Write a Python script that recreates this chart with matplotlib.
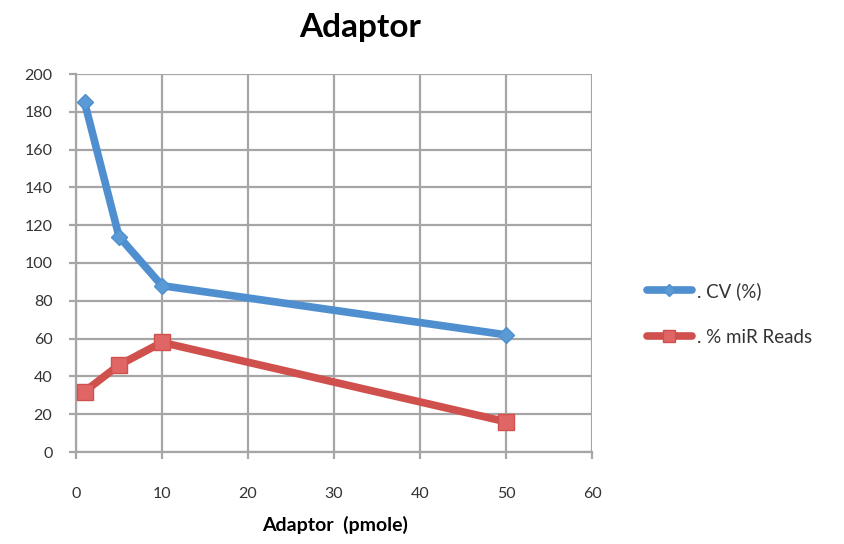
import matplotlib
matplotlib.use("Agg")
import matplotlib.pyplot as plt
from matplotlib.lines import Line2D

plt.rcParams['font.family'] = ['Lato', 'DejaVu Sans']

adaptor_pmole = [1, 5, 10, 50]
cv_percent = [185, 114, 88, 62]
mir_reads_percent = [32, 46, 58, 16]

x_ticks = [0, 10, 20, 30, 40, 50, 60]
y_ticks = list(range(0, 201, 20))

blue = '#4f8fd0'
red = '#d0504d'
grid_col = '#a6a6a6'

fig = plt.figure(figsize=(8.44, 5.44), dpi=100)
ax = fig.add_axes([76 / 844, 1 - 452 / 544, (592 - 76) / 844, (452 - 74) / 544])

ax.plot(adaptor_pmole, cv_percent, color=blue, lw=5.5, marker='D', ms=8,
        mfc='#5b9bd5', mec=blue, mew=1, solid_joinstyle='round',
        label='. CV (%)', zorder=3)
ax.plot(adaptor_pmole, mir_reads_percent, color=red, lw=5.5, marker='s', ms=11,
        mfc='#e06666', mec=red, mew=1, solid_joinstyle='round',
        label='. % miR Reads', zorder=3)

ax.set_xlim(0, 60)
ax.set_ylim(0, 200)
ax.set_xticks(x_ticks)
ax.set_yticks(y_ticks)
ax.grid(True, color=grid_col, lw=1.6)
ax.set_axisbelow(True)
for side in ['top', 'right']:
    ax.spines[side].set_visible(False)
for side in ['left', 'bottom']:
    ax.spines[side].set_color(grid_col)
    ax.spines[side].set_linewidth(1.6)
ax.tick_params(axis='both', colors=grid_col, width=1.6, length=5,
               labelcolor='#333333', labelsize=11.5)
ax.tick_params(axis='x', pad=20)
ax.tick_params(axis='y', pad=12)

fig.text(360 / 844, 1 - 28 / 544, 'Adaptor', ha='center', va='center',
         fontsize=24, fontweight='bold', color='black')
fig.text(335 / 844, 1 - 525 / 544, 'Adaptor  (pmole)', ha='center', va='center',
         fontsize=14, fontweight='bold', color='black')

handles = [
    Line2D([], [], color=blue, lw=5.5, marker='D', ms=6, mfc='#5b9bd5', mec=blue,
           solid_capstyle='round'),
    Line2D([], [], color=red, lw=5.5, marker='s', ms=8, mfc='#e06666', mec=red,
           solid_capstyle='round'),
]
fig.legend(handles, ['. CV (%)', '. % miR Reads'], loc='center left',
           bbox_to_anchor=(630 / 844, 1 - 314 / 544), frameon=False,
           fontsize=13.5, handlelength=2.4, handletextpad=0.25, labelspacing=1.55,
           labelcolor='#333333')

fig.savefig('out.png', dpi=100)
